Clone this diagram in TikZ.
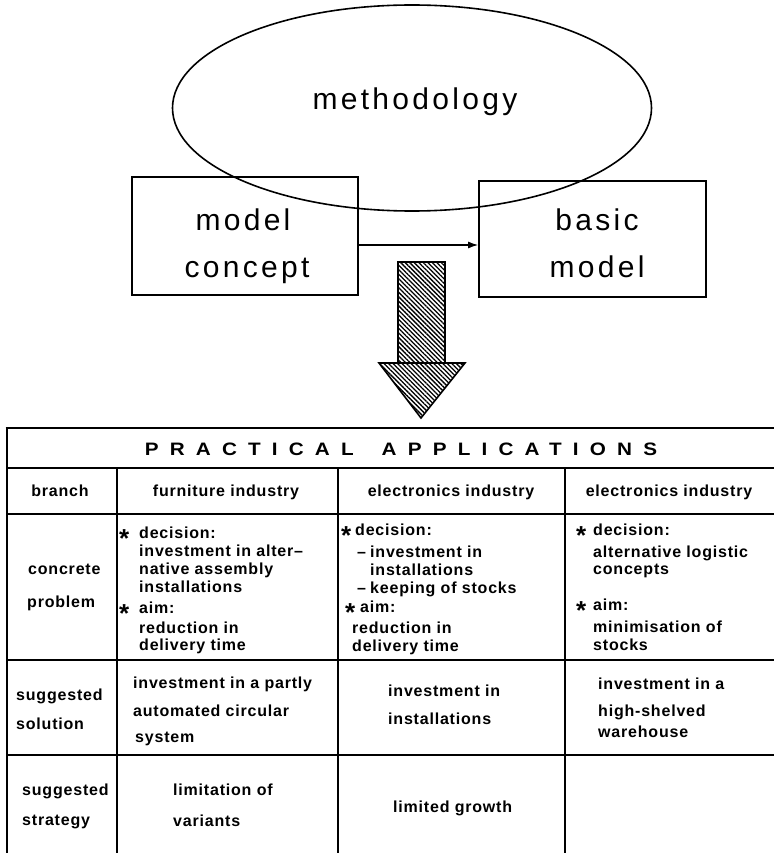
\documentclass[tikz,border=0pt]{standalone}
\usepackage{fontspec}
\setmainfont{Liberation Sans}
\newfontfamily\topfont[LetterSpace=11]{Liberation Sans}
\newfontfamily\tabfont[LetterSpace=5]{Liberation Sans}
\newfontfamily\headfont[LetterSpace=62,FakeStretch=1.15]{Liberation Sans}
\usetikzlibrary{shapes.geometric,patterns.meta,arrows.meta}
\newcommand\starmark{\smash{\raisebox{-9pt}{\fontsize{26}{26}\selectfont *}}}
\begin{document}
\begin{tikzpicture}[x=1pt,y=-1pt,
  topbox/.style={draw, line width=1.8pt, inner sep=0pt},
  toptext/.style={font={\topfont\fontsize{30}{36}\selectfont}, anchor=base, inner sep=0pt},
  cell/.style={font={\tabfont\bfseries\fontsize{16}{18}\selectfont}, anchor=base west, inner sep=0pt, text height=11pt, text depth=3pt},
  ccell/.style={cell, anchor=base},
  rule/.style={line width=1.3pt},
  hatch/.style={line width=1.6pt, pattern={Lines[angle=-45,distance=3.2pt,line width=1.3pt]}}
]
\useasboundingbox (0,0) rectangle (774,853);

% top part
\node[ellipse, draw, line width=1.6pt, minimum width=479pt, minimum height=206pt, inner sep=0pt] (meth) at (412,108) {};
\node[toptext] (methtxt) at (415,110) {methodology};
\node[topbox, minimum width=226pt, minimum height=118pt] (mc) at (245,236) {};
\node[toptext] (mc1) at (243,230) {model};
\node[toptext] (mc2) at (247,277) {concept};
\node[topbox, minimum width=227pt, minimum height=116pt] (bm) at (592.5,239) {};
\node[toptext] (bm1) at (597,230) {basic};
\node[toptext] (bm2) at (597,277) {model};
\draw[line width=1.2pt, -{Latex[length=10pt,width=7pt]}] ([yshift=-9pt]mc.east) -- ([yshift=-6pt]bm.west);

% hatched arrow
\node[draw, hatch, minimum width=47pt, minimum height=101pt, inner sep=0pt] (shaft) at (421.5,312.5) {};
\draw[hatch] (379,363) -- (465,363) -- (421,418) -- cycle;

% table rules
\draw[line width=2.6pt] (5.7,428) -- (687,428);
\draw[line width=1.4pt] (687,428) -- (774,428);
\draw[line width=2.8pt] (7,428) -- (7,853);
\foreach \yy in {468,514,660,755} \draw[rule] (7,\yy) -- (774,\yy);
\foreach \xx in {117,338,565} \draw[rule] (\xx,468) -- (\xx,853);

% header
\node[anchor=base, inner sep=0pt, font={\headfont\bfseries\fontsize{18}{20}\selectfont}] (head) at (401,455) {PRACTICAL\hspace{28pt}APPLICATIONS};

% centered header row
\node[ccell] (h1) at (60,496) {branch};
\node[ccell] (h2) at (226,496) {furniture industry};
\node[ccell] (h3) at (451,496) {electronics industry};
\node[ccell] (h4) at (669,496) {electronics industry};

% cells
\foreach \x/\y/\t [count=\i] in {
  28/574/concrete, 27/607/problem,
  119/538/\starmark, 139/538/decision:, 139/556/investment in alter–, 139/574/native assembly,
  139/592/installations, 119/613/\starmark, 139/613/aim:, 139/633/reduction in, 139/650/delivery time,
  341/535/\starmark, 355/535/decision:, 357/557/–, 370/557/investment in, 370/575/installations,
  357/593/–, 370/593/keeping of stocks, 345/612/\starmark, 360/612/aim:, 352/633/reduction in, 352/651/delivery time,
  576/535/\starmark, 593/535/decision:, 593/557/alternative logistic, 593/574/concepts,
  576/610/\starmark, 593/610/aim:, 593/632/minimisation of, 593/650/stocks,
  16/700/suggested, 16/729/solution, 133/688/investment in a partly, 133/716/automated circular, 135/742/system,
  388/696/investment in, 388/724/installations, 598/689/investment in a, 598/716/high-shelved, 598/737/warehouse,
  22/795/suggested, 22/825/strategy, 173/795/limitation of, 173/826/variants, 393/812/limited growth}
  \node[cell] (c\i) at (\x,\y) {\t};
\end{tikzpicture}
\end{document}
